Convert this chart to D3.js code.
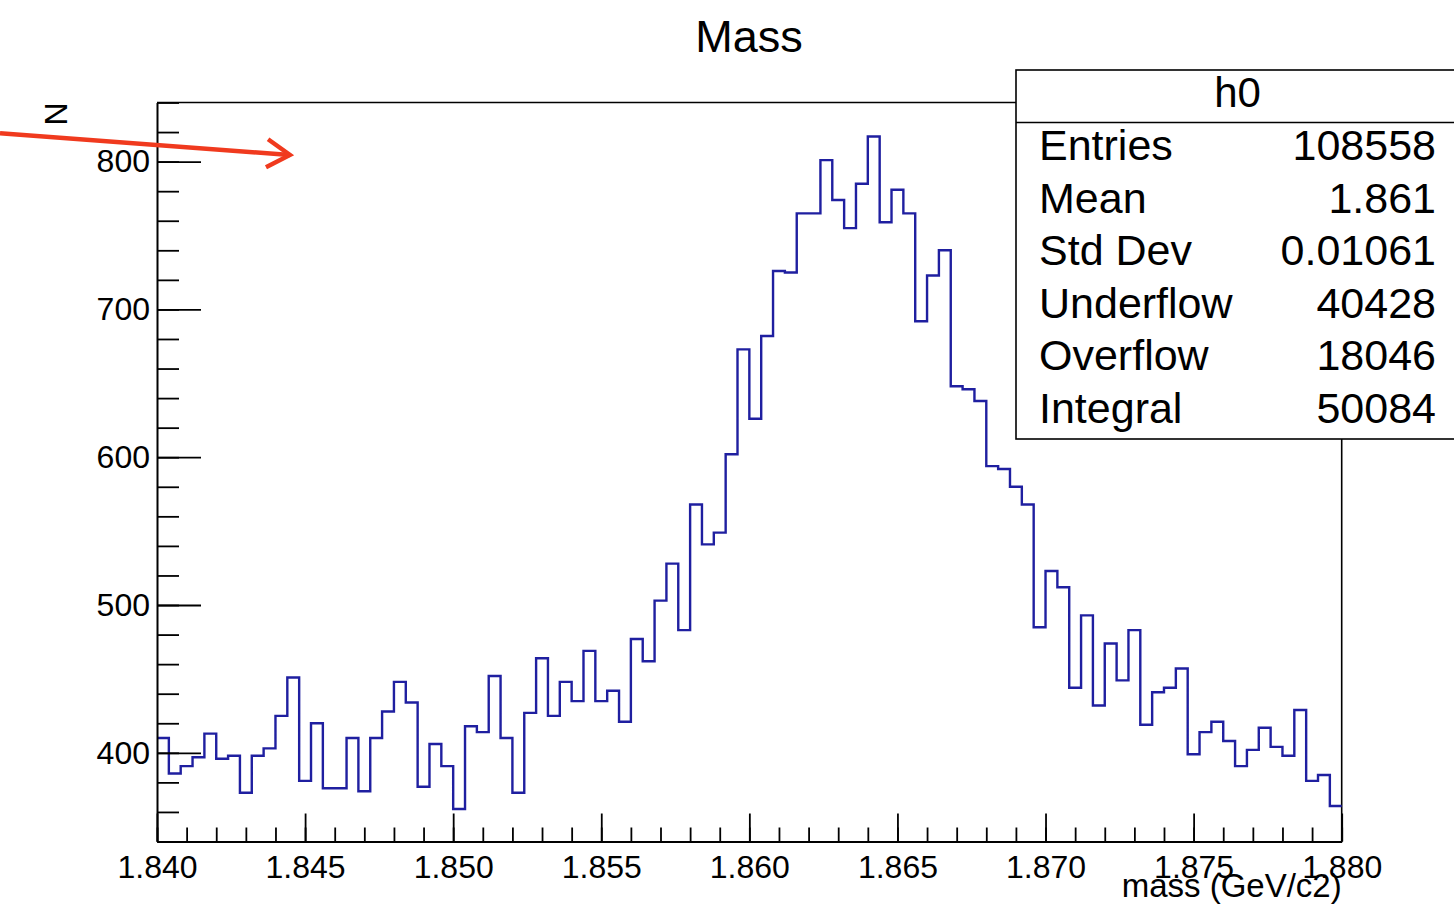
<!DOCTYPE html>
<html>
<head>
<meta charset="utf-8">
<script src="https://cdn.jsdelivr.net/npm/d3@7"></script>
<style>
  html, body { margin: 0; padding: 0; background: #fff; }
  svg { display: block; font-family: "Liberation Sans", Arial, Helvetica, sans-serif; }
</style>
</head>
<body>
<svg id="chart" width="1454" height="910"></svg>
<script>
// ---- data ----
const histTitle = "Mass";
const xAxisTitle = "mass (GeV/c2)";
const yAxisTitle = "N";
const xRange = [1.84, 1.88];
const yRange = [340, 840];
const counts = [
  410, 386, 391, 397, 413, 396, 398, 373, 398, 403,
  425, 451, 381, 420, 376, 376, 410, 374, 410, 428,
  448, 434, 377, 406, 391, 362, 418, 414, 452, 410,
  373, 427, 464, 425, 448, 435, 469, 435, 442, 421,
  477, 462, 503, 528, 483, 568, 541, 549, 602, 673,
  626, 682, 726, 725, 765, 765, 801, 774, 755, 785,
  817, 759, 781, 765, 692, 723, 740, 648, 646, 638,
  594, 592, 580, 568, 485, 523, 512, 444, 493, 432,
  474, 449, 483, 419, 441, 444, 457, 399, 414, 421,
  408, 391, 402, 417, 404, 398, 429, 381, 385, 364
];
const xMajorTicks = [1.840, 1.845, 1.850, 1.855, 1.860, 1.865, 1.870, 1.875, 1.880];
const yMajorTicks = [400, 500, 600, 700, 800];
const statsName = "h0";
const statsLabels = ["Entries", "Mean", "Std Dev", "Underflow", "Overflow", "Integral"];
const statsValues = ["108558", "1.861", "0.01061", "40428", "18046", "50084"];
// annotation arrow (in data coordinates): tail, tip
const arrowPoints = [[1.8347, 819.2], [1.84449, 804.5]];

// ---- layout ----
const svg = d3.select("#chart");
const L = 157, R = 1341.7, T = 102.5, B = 841.5;
const x = d3.scaleLinear().domain(xRange).range([L, R]);
const y = d3.scaleLinear().domain(yRange).range([B, T]);

// frame (top and right)
svg.append("path")
  .attr("d", `M${L},${T}H${R}V${B}`)
  .attr("fill", "none").attr("stroke", "#000").attr("stroke-width", 1.6);

// histogram outline
const nb = counts.length;
const bw = (xRange[1] - xRange[0]) / nb;
const pts = [];
counts.forEach((c, i) => {
  pts.push([xRange[0] + i * bw, c]);
  pts.push([xRange[0] + (i + 1) * bw, c]);
});
svg.append("path")
  .attr("d", d3.line().x(d => x(d[0])).y(d => y(d[1]))(pts))
  .attr("fill", "none").attr("stroke", "#1f1fa0").attr("stroke-width", 2.4);

// y axis
const yMinor = d3.range(yRange[0], yRange[1] + 0.001, 20);
const yAxisMinor = d3.axisLeft(y).tickValues(yMinor).tickSize(-22).tickSizeOuter(0).tickFormat("");
const gyMinor = svg.append("g").attr("transform", `translate(${L},0)`).call(yAxisMinor);
gyMinor.select(".domain").remove();
const yAxis = d3.axisLeft(y).tickValues(yMajorTicks).tickSize(-44).tickSizeOuter(0).tickPadding(7).tickFormat(d3.format("d"));
const gy = svg.append("g").attr("transform", `translate(${L},0)`).call(yAxis);

// x axis
const xMinor = d3.range(0, 41).map(i => xRange[0] + i * 0.001);
const xAxisMinor = d3.axisBottom(x).tickValues(xMinor).tickSize(-14).tickSizeOuter(0).tickFormat("");
const gxMinor = svg.append("g").attr("transform", `translate(0,${B})`).call(xAxisMinor);
gxMinor.select(".domain").remove();
const xAxis = d3.axisBottom(x).tickValues(xMajorTicks).tickSize(-28).tickSizeOuter(0).tickPadding(14).tickFormat(d3.format(".3f"));
const gx = svg.append("g").attr("transform", `translate(0,${B})`).call(xAxis);

[gy, gyMinor, gx, gxMinor].forEach(g => {
  g.selectAll("line").attr("stroke", "#000").attr("stroke-width", 1.8);
  g.selectAll(".domain").attr("stroke", "#000").attr("stroke-width", 2);
  g.selectAll("text").attr("font-size", 32).attr("fill", "#000")
    .attr("font-family", "'Liberation Sans', Arial, Helvetica, sans-serif");
});

// axis titles
svg.append("text").text(xAxisTitle)
  .attr("x", R).attr("y", 897).attr("text-anchor", "end")
  .attr("font-size", 33).attr("fill", "#000");
svg.append("text").text(yAxisTitle)
  .attr("transform", `translate(67,${T}) rotate(-90)`)
  .attr("text-anchor", "end").attr("font-size", 32).attr("fill", "#000");

// title
svg.append("text").text(histTitle)
  .attr("x", 749).attr("y", 51.7).attr("text-anchor", "middle")
  .attr("font-size", 45).attr("fill", "#000");

// stats box
const sb = svg.append("g");
sb.append("rect").attr("x", 1016).attr("y", 70).attr("width", 480).attr("height", 369)
  .attr("fill", "#fff").attr("stroke", "#000").attr("stroke-width", 1.6);
sb.append("line").attr("x1", 1016).attr("x2", 1454).attr("y1", 122.5).attr("y2", 122.5)
  .attr("stroke", "#000").attr("stroke-width", 1.6);
sb.append("text").text(statsName).attr("x", 1237.5).attr("y", 107)
  .attr("text-anchor", "middle").attr("font-size", 42).attr("fill", "#000");
statsLabels.forEach((lab, i) => {
  const yy = 160 + i * 52.6;
  sb.append("text").text(lab).attr("x", 1039).attr("y", yy)
    .attr("font-size", 43).attr("fill", "#000");
  sb.append("text").text(statsValues[i]).attr("x", 1436).attr("y", yy)
    .attr("text-anchor", "end").attr("font-size", 43).attr("fill", "#000");
});

// red annotation arrow
const red = "#f03a1e";
const p0 = [x(arrowPoints[0][0]), y(arrowPoints[0][1])];
const p1 = [x(arrowPoints[1][0]), y(arrowPoints[1][1])];
svg.append("line").attr("x1", p0[0]).attr("y1", p0[1]).attr("x2", p1[0]).attr("y2", p1[1])
  .attr("stroke", red).attr("stroke-width", 4.4);
const ang = Math.atan2(p1[1] - p0[1], p1[0] - p0[0]);
const hl = 27, ha = 0.55;
const h1 = [p1[0] - hl * Math.cos(ang - ha), p1[1] - hl * Math.sin(ang - ha)];
const h2 = [p1[0] - hl * Math.cos(ang + ha), p1[1] - hl * Math.sin(ang + ha)];
svg.append("path").attr("d", `M${h1[0]},${h1[1]}L${p1[0]},${p1[1]}L${h2[0]},${h2[1]}`)
  .attr("fill", "none").attr("stroke", red).attr("stroke-width", 4.4)
  .attr("stroke-linejoin", "miter");
</script>
</body>
</html>
